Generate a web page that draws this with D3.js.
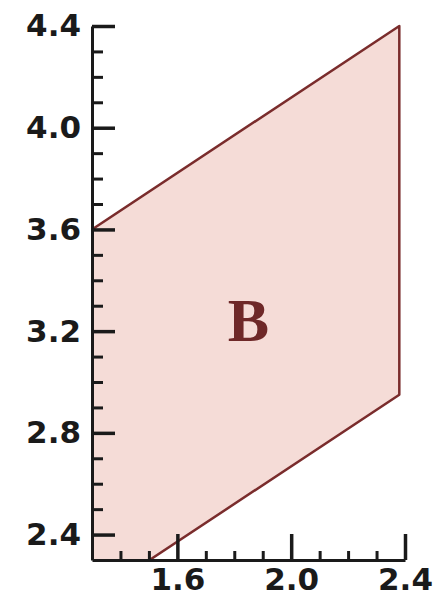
<!DOCTYPE html>
<html>
<head>
<meta charset="utf-8">
<script src="https://cdn.jsdelivr.net/npm/d3@7"></script>
<style>
  body { margin: 0; background: white; }
  .tickLabel text { font-family: "DejaVu Sans", sans-serif; font-weight: bold; font-size: 31px; fill: #1a1a1a; }
</style>
</head>
<body>
<script>
// axis ticks
const xTicks = [1.6, 2.0, 2.4];
const xMinor = [1.4, 1.5, 1.7, 1.8, 1.9, 2.1, 2.2, 2.3];
const yTicks = [2.4, 2.8, 3.2, 3.6, 4.0, 4.4];
const yMinor = [2.5, 2.6, 2.7, 2.9, 3.0, 3.1, 3.3, 3.4, 3.5, 3.7, 3.8, 3.9, 4.1, 4.2, 4.3];
// region B outline (x, y)
const regionB = [[1.3, 3.6], [2.38, 4.4], [2.38, 2.95], [1.3, 2.15]];
const regionLabel = {text: "B", x: 1.85, y: 3.16};

const width = 439, height = 598;
const margin = {top: 26, right: 34, bottom: 38, left: 92};

const svg = d3.select("body").append("svg")
    .attr("width", width).attr("height", height)
    .style("background", "white");

const xScale = d3.scaleLinear().domain([1.3, 2.4]).range([margin.left, width - margin.right]);
const yScale = d3.scaleLinear().domain([2.3, 4.4]).range([height - margin.bottom, margin.top]);

// clip to plot box
svg.append("clipPath").attr("id", "plotClip")
    .append("rect")
    .attr("x", xScale(1.3)).attr("y", yScale(4.4) - 3)
    .attr("width", xScale(2.4) - xScale(1.3))
    .attr("height", yScale(2.3) - yScale(4.4) + 3);

const line = d3.line().x(d => xScale(d[0])).y(d => yScale(d[1]));
svg.append("path")
    .attr("d", line(regionB) + "Z")
    .attr("clip-path", "url(#plotClip)")
    .attr("fill", "#f5dcd7")
    .attr("stroke", "#7a2c2c")
    .attr("stroke-width", 2.5)
    .attr("stroke-linejoin", "round");

svg.append("text")
    .attr("x", xScale(regionLabel.x))
    .attr("y", yScale(regionLabel.y))
    .attr("text-anchor", "middle")
    .attr("font-family", "'Liberation Serif', serif")
    .attr("font-weight", "bold")
    .attr("font-size", "62px")
    .attr("fill", "#6e2828")
    .text(regionLabel.text);

// minor ticks
svg.append("g")
    .attr("transform", `translate(0, ${yScale(2.3)})`)
    .call(d3.axisBottom(xScale).tickValues(xMinor).tickFormat("").tickSize(-9))
    .call(g => g.select(".domain").remove())
    .selectAll("line").attr("stroke", "#1a1a1a").attr("stroke-width", 3);
svg.append("g")
    .attr("transform", `translate(${xScale(1.3)}, 0)`)
    .call(d3.axisLeft(yScale).tickValues(yMinor).tickFormat("").tickSize(-11))
    .call(g => g.select(".domain").remove())
    .selectAll("line").attr("stroke", "#1a1a1a").attr("stroke-width", 3);

// major axes
const xAxis = d3.axisBottom(xScale).tickValues(xTicks).tickFormat(d3.format(".1f"))
    .tickSizeInner(-26).tickSizeOuter(0).tickPadding(8);
const yAxis = d3.axisLeft(yScale).tickValues(yTicks).tickFormat(d3.format(".1f"))
    .tickSizeInner(-23).tickSizeOuter(0).tickPadding(11);

const xAxisGroup = svg.append("g").attr("class", "tickLabel")
    .attr("transform", `translate(0, ${yScale(2.3)})`).call(xAxis);
const yAxisGroup = svg.append("g").attr("class", "tickLabel")
    .attr("transform", `translate(${xScale(1.3)}, 0)`).call(yAxis);

[xAxisGroup, yAxisGroup].forEach(g => {
    g.select(".domain").attr("stroke", "#1a1a1a").attr("stroke-width", 3);
    g.selectAll(".tick line").attr("stroke", "#1a1a1a").attr("stroke-width", 3.5);
});
</script>
</body>
</html>
